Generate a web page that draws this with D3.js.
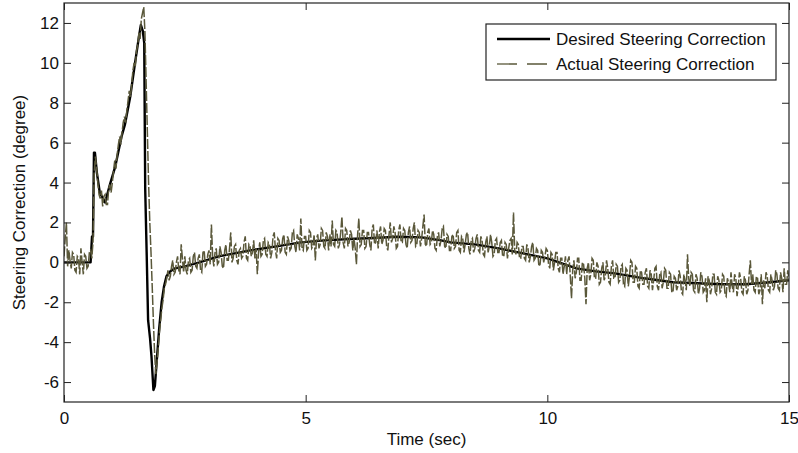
<!DOCTYPE html>
<html>
<head>
<meta charset="utf-8">
<script src="https://cdn.jsdelivr.net/npm/d3@7"></script>
<style>
  html, body { margin: 0; padding: 0; background: #fff; }
  svg { display: block; font-family: "Liberation Sans", Arial, sans-serif; }
</style>
</head>
<body>
<svg id="chart" width="798" height="453"></svg>
<script>
// ---- Data ----
const seriesNames = ["Desired Steering Correction", "Actual Steering Correction"];

const xTicks = [0, 5, 10, 15];
const yTicks = [-6, -4, -2, 0, 2, 4, 6, 8, 10, 12];

// Desired steering correction: breakpoints (time in s, value in degree)
const desiredTime = [0, 0.55, 0.58, 0.6, 0.62, 0.64, 0.68, 0.74, 0.85, 0.95, 1.06, 1.19, 1.26, 1.37, 1.47, 1.55, 1.59, 1.63, 1.66, 1.68, 1.71, 1.74, 1.78, 1.81, 1.85, 1.88, 1.92, 1.97, 2.02, 2.07, 2.12, 2.2, 2.3, 2.5, 2.8, 3.2, 3.85, 4.4, 4.9, 5.4, 5.9, 6.4, 6.9, 7.4, 7.8, 8.0, 8.5, 9.0, 9.4, 9.7, 10.0, 10.3, 10.6, 11.0, 11.4, 12.0, 12.6, 13.1, 13.6, 14.1, 14.6, 15];
const desiredValue = [0, 0, 1.3, 1.3, 5.5, 5.5, 4.5, 3.5, 3.0, 3.9, 4.8, 6.3, 6.9, 8.3, 10.0, 11.3, 11.9, 11.6, 11.0, 3.7, 0.5, -2.9, -3.8, -4.7, -6.4, -6.2, -4.9, -3.3, -2.0, -1.2, -0.7, -0.45, -0.3, -0.2, 0, 0.3, 0.6, 0.8, 1.0, 1.1, 1.17, 1.22, 1.28, 1.25, 1.1, 1.0, 0.9, 0.7, 0.5, 0.35, 0.2, -0.05, -0.3, -0.45, -0.55, -0.8, -1.0, -1.05, -1.1, -1.1, -1.0, -0.9];

// Actual steering correction, sampled every 0.025 s from t = 0 to 15 (one row = 0.5 s)
const actualStep = 0.025;
const actualValue = [
  0.3, 1.2, 2.0, -0.2, 0.6, 0.1, -0.3, 0.5, 0.4, -0.4, -0.5, 0.3, 0.2, -0.6, 0.7, 0.0, -0.6, 0.4, 0.3, -0.3,
  -0.2, 0.5, 0.6, 0.2, 1.0, 4.5, 5.3, 4.7, 4.0, 3.4, 3.2, 3.6, 2.8, 3.3, 3.4, 2.9, 2.9, 3.7, 3.9, 3.5,
  4.0, 4.6, 5.1, 4.7, 5.4, 5.9, 6.3, 5.9, 6.5, 7.0, 7.3, 7.0, 7.6, 8.1, 8.6, 8.3, 8.9, 9.6, 10.0, 9.8,
  10.6, 10.9, 11.5, 11.2, 12.2, 12.5, 12.8, 11.5, 9.0, 6.5, 4.0, 2.0, 0.5, -1.2, -3.0, -4.6, -5.6, -5.0, -4.3, -3.5,
  -2.9, -2.3, -1.9, -1.3, -1.1, -0.8, -0.4, -0.9, -0.7, -0.2, 0.1, -0.6, -0.5, 0.0, 0.3, -0.4, -0.6, 0.9, 0.2, -0.5,
  0.3, -0.4, -0.6, 0.1, 0.2, -0.5, -0.4, 0.3, 0.5, -0.2, -0.3, 0.2, 0.4, -0.4, -0.5, 0.5, 0.6, -0.2, -0.1, 0.4,
  0.6, -0.1, 1.9, 0.3, -0.2, 0.5, 0.7, -0.1, 0.0, 0.8, 0.5, -0.2, -0.3, 0.6, 0.9, 0.1, 0.1, 0.7, 1.5, 0.0,
  0.2, 0.8, 0.9, 0.1, -0.1, 0.6, 0.7, 0.2, 0.3, 1.0, 1.3, 0.2, 0.1, 0.9, 0.8, 0.3, 0.5, 1.1, 0.2, 0.7,
  -0.6, 0.5, 1.0, 0.3, 0.4, 1.1, 1.2, 0.4, 0.3, 1.0, 0.9, 0.2, 0.5, 1.3, 1.5, 0.6, 0.2, 1.2, 1.1, 0.5,
  0.6, 1.2, 1.4, 0.5, 0.4, 1.3, 1.1, 0.6, 0.7, 1.5, 1.6, 0.8, 0.5, 1.4, 1.2, 0.6, 2.2, 0.7, 0.6, 1.3,
  1.3, 0.6, 0.7, 1.6, 1.5, 0.7, 0.8, 1.4, 0.1, 1.2, 1.4, 0.7, 0.9, 1.7, 1.6, 0.8, 0.7, 1.5, 1.3, 0.6,
  1.4, 0.8, 2.1, 0.9, 0.8, 1.6, 1.5, 0.7, 0.9, 1.5, 2.3, 1.0, 0.7, 1.7, 1.6, 0.8, 1.0, 1.6, 1.4, 0.6,
  1.2, 0.7, -0.1, 1.4, 2.2, 0.8, 0.9, 1.6, 1.6, 0.7, 0.8, 1.5, 1.5, 0.9, 0.6, 1.7, 1.9, 0.9, 1.0, 1.6,
  0.7, 1.5, 1.8, 0.9, 1.1, 1.7, 1.6, 0.8, 0.6, 1.4, 2.0, 1.0, 1.2, 1.8, 1.5, 0.7, 0.8, 1.6, 1.9, 1.0,
  1.0, 1.7, 1.6, 0.9, 0.7, 1.5, 1.8, 1.0, 1.1, 1.7, 2.0, 0.8, 0.9, 1.6, 1.5, 0.8, 1.2, 1.8, 2.4, 0.9,
  0.8, 1.5, 1.7, 0.9, 1.0, 1.6, 1.4, 0.7, 0.6, 1.3, 1.5, 0.8, 1.1, 1.7, 1.8, 0.8, 0.7, 1.4, 1.3, 0.6,
  0.6, 1.3, 1.4, 0.7, 0.8, 1.5, 1.6, 0.6, 0.5, 1.3, 1.2, 0.5, 0.9, 1.4, 1.5, 0.7, 0.4, 1.1, 1.2, 0.5,
  0.7, 1.2, 1.4, 0.6, 0.5, 1.3, 1.1, 0.4, 0.3, 1.0, 1.3, 0.5, 0.8, 1.4, 1.0, 0.3, 0.4, 1.1, 1.2, 0.5,
  0.5, 1.0, 1.1, 0.3, 0.3, 1.0, 0.9, 0.2, 0.7, 1.1, 1.2, 0.4, 2.5, 0.6, 0.4, 1.0, 0.9, 0.2, 0.2, 0.8,
  0.8, 0.2, 0.1, 0.9, 0.7, 0.0, 0.3, 0.8, 1.0, 0.1, 0.2, 0.7, 0.6, -0.2, -0.1, 0.6, 0.5, 0.0, 0.3, 0.7,
  0.6, -0.1, -0.3, 0.5, 0.4, -0.4, 0.0, 0.5, 0.5, -0.3, -0.5, 0.2, 0.2, -0.6, -0.2, 0.3, -0.6, 0.1, 0.3, -0.7,
  -1.8, -0.4, 0.1, -0.8, -0.5, 0.2, 0.2, -0.9, -0.9, 0.0, -0.1, -0.8, -2.1, -0.3, 0.0, -0.9, -0.6, 0.2, 0.1, -0.8,
  -0.8, 0.0, -0.2, -1.1, -1.0, -0.3, 0.0, -0.9, -0.7, 0.1, -0.3, -1.0, -1.1, -0.2, 0.1, -0.8, -0.8, -0.1, -0.2, -1.0,
  -0.9, -0.2, -0.1, -1.1, -1.2, -0.3, -0.4, -1.2, -0.7, 0.1, 0.0, -1.0, -1.0, -0.2, -0.3, -1.2, -1.3, -0.4, -0.5, -1.1,
  -1.1, -0.5, -0.3, -1.2, -1.3, -0.4, -0.6, -1.4, -0.9, -0.3, -0.2, -1.2, -1.4, -0.6, -0.5, -1.3, -1.0, -0.3, -0.4, -1.3,
  -1.3, -0.5, -0.6, -1.5, -1.5, -0.7, -0.8, -1.4, -1.2, -0.4, -0.7, -1.5, -1.6, -0.6, -0.9, -1.4, 0.4, -0.8, -1.2, -0.5,
  -0.6, -1.4, -1.5, -0.6, -0.8, -1.6, -1.3, -0.5, -0.7, -1.5, -1.4, -0.8, -2.0, -0.7, -0.9, -1.6, -1.3, -0.6, -0.6, -1.5,
  -1.6, -0.7, -0.9, -1.5, -1.4, -0.6, -0.7, -1.6, -1.7, -0.8, -1.0, -1.5, -0.5, -1.2, -1.5, -0.6, -0.8, -1.7, -1.2, -0.5,
  -0.8, -1.5, -1.6, -0.7, -0.9, -1.6, -1.4, -0.6, 0.1, -1.1, -0.6, -1.4, -1.5, -0.7, -0.8, -1.6, -1.4, -0.6, -2.1, -0.9,
  -1.3, -0.5, -0.7, -1.4, -1.5, -0.6, -0.9, -1.4, -1.2, -0.4, -0.6, -1.3, -1.4, -0.5, -0.8, -1.5, -0.3, -1.1, -1.1, -0.4,
  -0.9
];

// ---- Layout ----
const svg = d3.select("#chart");
const plot = { left: 64, right: 789, top: 3, bottom: 402 };
const x = d3.scaleLinear().domain([0, 15]).range([plot.left, plot.right]);
const y = d3.scaleLinear().domain([-7, 13]).range([plot.bottom, plot.top]);

const textColor = "#111";
const olive = "#5a583a";
const fontSize = 17;
const fmt = d => String(d);

svg.append("rect").attr("x", plot.left).attr("y", plot.top)
  .attr("width", plot.right - plot.left).attr("height", plot.bottom - plot.top)
  .attr("fill", "#fff");

svg.append("clipPath").attr("id", "clip").append("rect")
  .attr("x", plot.left).attr("y", plot.top)
  .attr("width", plot.right - plot.left).attr("height", plot.bottom - plot.top);

const desired = desiredTime.map((t, i) => [t, desiredValue[i]]);
const actual = actualValue.map((v, i) => [i * actualStep, v]);

const line = d3.line().x(d => x(d[0])).y(d => y(d[1]));

const g = svg.append("g").attr("clip-path", "url(#clip)");
g.append("path").datum(desired).attr("d", line)
  .attr("fill", "none").attr("stroke", "#000").attr("stroke-width", 2.4)
  .attr("stroke-linejoin", "round");
g.append("path").datum(actual).attr("d", line)
  .attr("fill", "none").attr("stroke", olive).attr("stroke-width", 1.5)
  .attr("stroke-dasharray", "10,2");

// ---- Axes (ticks inward on all four sides) ----
const tickLen = 7;
const axisStyle = sel => {
  sel.selectAll(".domain").remove();
  sel.selectAll(".tick line").attr("stroke", "#222");
  sel.selectAll(".tick text").attr("fill", textColor)
    .style("font-size", fontSize + "px").style("font-family", '"Liberation Sans", Arial, sans-serif');
};

svg.append("g").attr("transform", `translate(0,${plot.bottom})`)
  .call(d3.axisBottom(x).tickValues(xTicks).tickSize(-tickLen).tickPadding(10).tickFormat(fmt))
  .call(axisStyle);
svg.append("g").attr("transform", `translate(0,${plot.top})`)
  .call(d3.axisTop(x).tickValues(xTicks).tickSize(-tickLen).tickFormat(""))
  .call(axisStyle);
svg.append("g").attr("transform", `translate(${plot.left},0)`)
  .call(d3.axisLeft(y).tickValues(yTicks).tickSize(-tickLen).tickPadding(5).tickFormat(fmt))
  .call(axisStyle);
svg.append("g").attr("transform", `translate(${plot.right},0)`)
  .call(d3.axisRight(y).tickValues(yTicks).tickSize(-tickLen).tickFormat(""))
  .call(axisStyle);

svg.append("rect").attr("x", plot.left).attr("y", plot.top)
  .attr("width", plot.right - plot.left).attr("height", plot.bottom - plot.top)
  .attr("fill", "none").attr("stroke", "#222").attr("stroke-width", 1.2);

svg.append("text").attr("x", (plot.left + plot.right) / 2).attr("y", 445)
  .attr("text-anchor", "middle").attr("fill", textColor)
  .style("font-size", fontSize + "px").text("Time (sec)");
svg.append("text")
  .attr("transform", `translate(25,${(plot.top + plot.bottom) / 2}) rotate(-90)`)
  .attr("text-anchor", "middle").attr("fill", textColor)
  .style("font-size", fontSize + "px").text("Steering Correction (degree)");

// ---- Legend ----
const lg = svg.append("g");
lg.append("rect").attr("x", 486).attr("y", 24).attr("width", 290).attr("height", 56)
  .attr("fill", "#fff").attr("stroke", "#222").attr("stroke-width", 1.2);
const legendRows = [
  { name: seriesNames[0], color: "#000", width: 2.4, dash: null, cy: 39 },
  { name: seriesNames[1], color: olive, width: 1.3, dash: "20,10", cy: 64 }
];
legendRows.forEach(r => {
  lg.append("line").attr("x1", 497).attr("x2", 550).attr("y1", r.cy).attr("y2", r.cy)
    .attr("stroke", r.color).attr("stroke-width", r.width)
    .attr("stroke-dasharray", r.dash);
  lg.append("text").attr("x", 556).attr("y", r.cy + 6).attr("fill", textColor)
    .style("font-size", fontSize + "px").text(r.name);
});
</script>
</body>
</html>
